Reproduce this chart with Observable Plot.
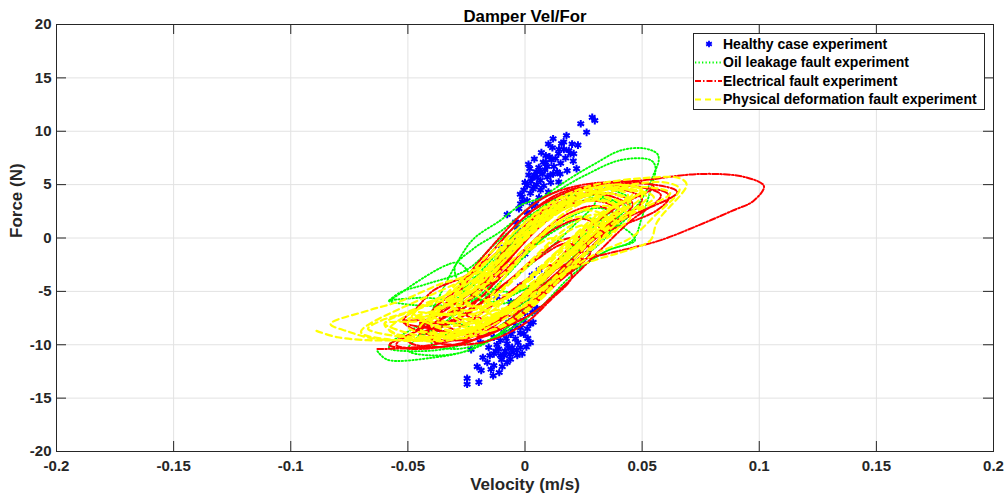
<!DOCTYPE html>
<html>
<head>
<meta charset="utf-8">
<script src="https://cdn.jsdelivr.net/npm/d3@7"></script>
<script src="https://cdn.jsdelivr.net/npm/@observablehq/plot@0.6"></script>
<style>
  body { margin: 0; background: #fff; }
  #wrap { position: relative; width: 1007px; height: 502px; font-family: "Liberation Sans", Arial, Helvetica, sans-serif; }
  #legend { position: absolute; left: 693px; top: 33px; }
</style>
</head>
<body>
<div id="wrap"></div>
<script>
const chartTitle = "Damper Vel/For";
const xLabel = "Velocity (m/s)";
const yLabel = "Force (N)";
const xTicks = [-0.2, -0.15, -0.1, -0.05, 0, 0.05, 0.1, 0.15, 0.2];
const yTicks = [-20, -15, -10, -5, 0, 5, 10, 15, 20];
const seriesNames = ["Healthy case experiment", "Oil leakage fault experiment", "Electrical fault experiment", "Physical deformation fault experiment"];

// [velocity (m/s), force (N)]
const healthy = [
  [0.0287,11.3],[0.0298,11.0],[0.0238,10.7],[0.0263,9.9],[0.0177,9.6],[0.0156,8.85],[0.0201,8.8],[0.0226,8.7],
  [0.0117,8.45],[0.0166,8.3],[0.0208,7.9],[0.0143,7.9],[0.0089,7.7],[0.0173,7.5],[0.0113,7.3],[0.0206,7.2],
  [0.0078,7.1],[0.022,6.5],[0.018,6.3],[0.0137,6.2],[0.0059,6.6],[0.0095,6.7],[0.0049,6.2],[0.0016,5.9],
  [0.0031,5.6],[0.0066,5.4],[0.0109,5.9],[0.0144,5.25],[0.0009,4.9],[0.0038,4.8],[-0.0005,4.5],[0.0023,4.2],
  [0.0066,4.5],[-0.0012,3.85],[0.0009,3.5],[-0.0019,3.2],[-0.0026,2.75],[-0.0076,2.2],[0.008,4.9],[0.0095,5.7],
  [0.0123,6.7],[0.0152,7.0],[0.013,7.45],[0.0187,8.2],[0.0194,7.9],[0.0052,5.7],[0.0066,6.2],[0.0088,7.1],
  [0.0,5.2],[0.002,6.5],[0.004,7.4],[0.007,8.0],[0.01,8.8],[0.012,9.3],[0.003,3.0],[0.006,3.8],[0.01,4.3],
  [-0.002,4.1],[0.005,5.0],[0.011,5.2],[0.015,6.0],[0.0075,6.0],[0.0025,5.3],[-0.001,3.4],[0.001,2.4],[0.0045,3.2],
  [0.0015,6.9],[0.004,5.9],[0.0085,6.4],[0.012,6.0],[0.0105,7.6],[0.0145,8.3],[0.0165,9.0],[0.0035,4.6],
  [-0.0033,1.0],[-0.0055,-1.15],[-0.0097,-2.3],[-0.019,-3.45],[0.0066,-4.0],[0.0052,-6.6],[-0.005,0.0],[0.0,-1.5],
  [-0.008,-2.0],[0.003,-3.5],[-0.002,-4.5],[0.004,-5.5],[-0.004,1.5],[0.002,0.8],[-0.01,-1.0],[0.006,-3.0],
  [-0.006,-6.0],[-0.012,-5.5],[0.0,-7.0],
  [-0.0247,-13.15],[-0.0247,-13.7],[-0.0197,-13.5],[-0.0136,-12.9],[-0.0204,-12.05],[-0.0187,-12.4],[-0.0161,-11.65],
  [-0.0133,-11.95],[-0.0097,-12.05],[-0.0062,-11.35],[-0.0076,-11.65],[-0.0033,-11.0],[-0.023,-10.45],[-0.019,-9.8],
  [-0.0155,-10.25],[-0.0133,-10.85],[-0.0112,-10.4],[-0.009,-11.0],[-0.0076,-9.9],[-0.0055,-10.25],[-0.0019,-10.25],
  [-0.0012,-10.85],[0.0006,-10.2],[-0.0041,-9.45],[-0.0005,-9.0],[0.0023,-9.8],[-0.0133,-9.3],[-0.0105,-9.6],
  [-0.009,-8.85],[-0.0055,-8.7],[-0.0019,-8.4],[0.0023,-8.05],[-0.0005,-7.75],[0.0031,-6.95],[0.0049,-6.65],
  [0.0023,-6.0],[0.0035,-7.9],[-0.0069,-7.9],[-0.0033,-7.4],
  [-0.008,-9.4],[-0.006,-9.0],[-0.003,-9.8],[-0.012,-10.0],[-0.01,-11.4],[-0.005,-10.7],[-0.015,-11.0],
  [-0.002,-8.9],[0.001,-8.5],[-0.004,-8.2],[-0.0085,-10.6],[-0.011,-12.6],[-0.018,-11.2],
  [-0.0145,-12.3],[-0.0065,-10.9],[-0.0035,-10.5],[-0.0105,-11.0],[-0.0125,-10.6],[-0.007,-10.3],[0.0012,-9.4]
];

const oilLeakage = [
  [-0.063,-10.6],[-0.0588,-11.4],[-0.039,-11.2],[-0.0247,-10.55],[-0.01,-8.8],[0.0066,-5.2],[0.02,-2.0],[0.035,1.0],
  [0.045,3.5],[0.035,4.6],[0.02,4.4],[0.005,2.5],[-0.01,-1.0],[-0.025,-4.5],[-0.04,-7.5],[-0.056,-9.6],
  [-0.058,-10.3],[-0.045,-10.6],[-0.03,-10.2],[-0.015,-8.8],[0.0,-6.5],[0.015,-3.5],[0.03,-0.5],[0.045,2.5],
  [0.035,3.6],[0.02,3.2],[0.005,1.2],[-0.01,-2.0],[-0.025,-5.0],[-0.04,-7.5],
  [-0.045,-8.6],[-0.03,-9.0],[-0.015,-8.0],[0.0,-6.0],[0.015,-3.0],[0.028,0.0],[0.04,3.0],[0.03,4.0],[0.015,3.2],
  [0.0,1.0],[-0.015,-2.5],[-0.03,-5.5],[-0.045,-5.6],
  [-0.0581,-5.9],[-0.0489,-6.25],[-0.0389,-6.35],[-0.025,-6.0],[-0.01,-4.5],[0.005,-2.0],[0.02,1.0],[0.03,3.5],
  [0.02,4.0],[0.005,2.5],[-0.01,0.0],[-0.025,-3.0],[-0.0418,-4.3],[-0.0531,-5.08],[-0.0581,-5.9],
  [-0.029,-2.3],[-0.022,-3.7],[-0.01,-5.0],[0.005,-4.5],[0.02,-2.5],[0.0336,-0.2],[0.0422,1.96],[0.0479,3.05],
  [0.0522,4.6],[0.055,6.0],[0.0571,7.3],[0.0564,7.9],[0.0507,8.4],[0.0408,8.2],[0.0294,6.9],[0.0194,5.6],
  [0.005,3.4],[-0.0105,0.6],[-0.022,-1.0],
  [-0.03,-2.8],[-0.025,-5.0],[-0.012,-6.2],[0.0152,-3.7],[0.035,-1.2],[0.046,-0.2],[0.05,2.0],[0.0536,4.5],
  [0.0557,6.65],[0.0536,7.3],[0.0408,7.3],[0.025,5.8],[0.01,4.0],[-0.0019,3.06],[-0.0105,1.65],[-0.0219,-0.07],
  [-0.029,-2.3],
  [-0.045,-9.0],[-0.05,-10.5],[-0.04,-11.0],[-0.025,-10.6],[-0.01,-9.0],[0.005,-6.8],[0.02,-3.5],[0.035,-1.2],
  [0.047,-0.2],[0.04,1.2],[0.025,1.8],[0.01,0.3],[-0.005,-2.5],[-0.02,-5.5],[-0.035,-8.0],[-0.045,-9.2],
  [-0.03,-8.0],[-0.02,-8.5],[-0.008,-7.0],[0.005,-4.5],[0.018,-1.8],[0.03,1.2],[0.038,3.0],[0.03,4.0],
  [0.018,3.5],[0.005,1.5],[-0.008,-1.5],[-0.02,-4.8],[-0.03,-7.0],
  [-0.04,-9.8],[-0.03,-10.4],[-0.016,-9.6],[-0.002,-7.4],[0.012,-4.4],[0.026,-1.4],[0.04,1.8],[0.032,2.8],
  [0.018,1.8],[0.004,-0.8],[-0.01,-4.0],[-0.026,-7.2],
  [-0.025,-5.0],[-0.016,-6.0],[-0.002,-5.0],[0.012,-2.6],[0.026,0.4],[0.04,3.0],[0.03,4.0],[0.016,3.2],
  [0.002,1.0],[-0.012,-2.0]
];

const electrical = [
  [-0.063,-10.4],[-0.05,-10.3],[-0.035,-9.8],[-0.02,-8.8],[-0.005,-6.5],[0.01,-3.5],[0.025,-0.5],[0.04,2.5],
  [0.03,3.5],[0.015,2.8],[0.0,0.5],[-0.015,-3.5],[-0.03,-6.8],[-0.045,-8.6],[-0.055,-9.6],
  [-0.058,-10.0],[-0.048,-10.4],[-0.03,-10.0],[-0.015,-9.0],[0.0,-7.0],[0.012,-4.5],[0.025,-1.5],[0.018,-0.5],
  [0.005,-2.0],[-0.01,-4.5],[-0.025,-7.0],[-0.04,-8.5],
  [-0.045,-9.0],[-0.03,-9.6],[-0.015,-8.5],[0.0,-5.5],[0.015,-2.7],[0.029,-1.8],[0.047,-0.85],[0.058,-0.2],
  [0.072,1.0],[0.089,2.6],[0.0974,3.45],[0.102,4.85],[0.094,5.7],[0.075,6.0],[0.05,5.4],[0.025,5.0],[0.01,4.0],
  [0.0,2.5],[-0.015,-1.0],[-0.03,-5.0],[-0.04,-7.5],
  [-0.052,-7.8],[-0.045,-8.8],[-0.03,-9.2],[-0.015,-8.0],[0.0,-5.8],[0.015,-3.0],[0.03,0.0],[0.045,2.8],
  [0.035,4.0],[0.02,3.8],[0.005,2.0],[-0.01,-1.0],[-0.025,-3.5],[-0.039,-4.9],[-0.046,-6.5],[-0.052,-7.8],
  [-0.04,-8.5],[-0.025,-9.0],[-0.01,-7.5],[0.005,-4.5],[0.02,-1.5],[0.0293,0.1],[0.0436,1.35],[0.0564,2.6],
  [0.0614,3.7],[0.0607,4.2],[0.049,4.8],[0.03,4.9],[0.015,4.2],[0.0,2.0],[-0.015,-1.5],[-0.028,-5.0],[-0.036,-7.0],
  [-0.035,-9.0],[-0.025,-9.6],[-0.01,-8.5],[0.005,-5.8],[0.02,-2.5],[0.033,0.5],[0.025,1.8],[0.01,0.5],
  [-0.005,-2.5],[-0.02,-5.8],[-0.03,-7.8],
  [-0.045,-8.0],[-0.035,-8.8],[-0.02,-8.4],[-0.005,-6.0],[0.01,-3.0],[0.025,0.5],[0.04,3.0],[0.055,4.8],
  [0.045,5.3],[0.03,5.0],[0.015,4.0],[0.0,2.0],[-0.015,-1.5],[-0.03,-5.0],[-0.04,-7.0],
  [-0.04,-9.5],[-0.03,-10.0],[-0.015,-9.6],[0.0,-8.0],[0.01,-6.0],[0.02,-3.5],[0.012,-2.5],[0.0,-4.0],
  [-0.015,-6.5],[-0.028,-8.3],
  [-0.025,-7.0],[-0.015,-7.8],[0.0,-6.5],[0.012,-4.0],[0.025,-1.0],[0.04,1.5],[0.065,4.3],[0.055,5.0],
  [0.035,5.0],[0.02,4.2],[0.005,2.2],[-0.01,-1.5],[-0.02,-4.5],
  [-0.05,-9.6],[-0.04,-10.2],[-0.025,-9.8],[-0.01,-8.2],[0.004,-5.6],[0.018,-2.6],[0.032,0.4],[0.046,3.2],
  [0.036,4.2],[0.022,3.6],[0.008,1.4],[-0.006,-1.8],[-0.02,-5.2],[-0.036,-7.8],
  [-0.03,-8.6],[-0.02,-9.2],[-0.006,-8.0],[0.008,-5.4],[0.022,-2.2],[0.036,0.8],[0.05,3.6],[0.04,4.6],
  [0.026,4.2],[0.012,2.4],[-0.002,-0.6],[-0.016,-4.0],
  [-0.042,-8.0],[-0.032,-8.8],[-0.018,-8.4],[-0.004,-6.4],[0.01,-3.6],[0.024,-0.6],[0.038,2.2],[0.03,3.0],
  [0.016,2.0],[0.002,-0.6],[-0.012,-3.8],[-0.028,-6.6],
  [-0.022,-7.6],[-0.012,-8.4],[0.002,-7.2],[0.016,-4.6],[0.03,-1.6],[0.044,1.4],[0.058,4.0],[0.048,4.8],
  [0.034,4.6],[0.02,3.4],[0.006,1.0],[-0.008,-2.4],[-0.018,-5.4],
  [-0.055,-10.0],[-0.044,-10.3],[-0.028,-9.9],[-0.014,-8.8],[0.0,-6.8],[0.014,-4.2],[0.028,-1.2],[0.02,0.0],
  [0.006,-1.6],[-0.008,-4.2],[-0.024,-7.0],[-0.04,-8.8]
];

const physicalDeformation = [
  [-0.089,-8.7],[-0.08,-9.3],[-0.06,-9.6],[-0.04,-9.2],[-0.02,-7.8],[0.0,-5.5],[0.015,-2.5],[0.03,0.5],
  [0.045,3.5],[0.035,4.2],[0.02,3.8],[0.005,2.0],[-0.01,-1.0],[-0.025,-3.5],[-0.036,-4.3],[-0.053,-5.9],
  [-0.067,-6.8],[-0.083,-8.05],
  [-0.075,-8.8],[-0.065,-9.4],[-0.045,-9.5],[-0.025,-8.5],[-0.008,-6.5],[0.008,-3.8],[0.025,-0.8],[0.045,2.2],
  [0.062,4.2],[0.05,4.8],[0.03,4.3],[0.012,2.8],[-0.005,0.0],[-0.02,-3.0],[-0.035,-5.5],[-0.05,-6.9],[-0.062,-7.8],
  [-0.067,-8.5],[-0.055,-9.2],[-0.04,-9.4],[-0.025,-8.7],[-0.01,-7.0],[0.005,-4.0],[0.02,-1.0],[0.012,0.0],
  [0.0,-1.5],[-0.012,-3.8],[-0.028,-5.3],[-0.045,-6.6],[-0.06,-8.05],
  [-0.055,-9.0],[-0.045,-9.6],[-0.03,-9.5],[-0.015,-8.3],[0.0,-6.3],[0.015,-3.5],[0.03,-0.5],[0.045,2.0],
  [0.035,3.0],[0.02,2.2],[0.005,0.0],[-0.01,-3.0],[-0.025,-5.8],[-0.04,-7.6],
  [-0.06,-8.0],[-0.05,-8.9],[-0.035,-9.3],[-0.02,-8.6],[-0.005,-6.3],[0.01,-3.5],[0.025,-0.8],[0.04,1.8],
  [0.055,3.8],[0.045,4.6],[0.03,4.4],[0.015,3.0],[0.0,0.5],[-0.015,-2.8],[-0.03,-5.0],[-0.045,-6.5],
  [-0.05,-8.3],[-0.04,-9.0],[-0.025,-8.8],[-0.01,-7.0],[0.005,-4.2],[0.02,-1.3],[0.035,1.5],[0.05,4.0],
  [0.04,4.6],[0.025,4.0],[0.01,2.2],[-0.005,-0.8],[-0.02,-3.8],[-0.035,-6.5],
  [-0.04,-8.0],[-0.03,-8.7],[-0.015,-8.0],[0.0,-5.5],[0.015,-2.5],[0.03,0.5],[0.042,3.0],[0.035,3.8],
  [0.02,3.2],[0.005,1.0],[-0.01,-2.0],[-0.025,-5.0],
  [-0.045,-8.5],[-0.03,-8.8],[-0.012,-7.5],[0.005,-5.0],[0.022,-2.7],[0.0458,-1.0],[0.0536,-0.2],[0.0564,1.5],
  [0.069,5.0],[0.066,5.6],[0.05,5.6],[0.03,5.0],[0.015,3.8],[0.0,1.5],[-0.015,-2.0],[-0.03,-5.5],
  [-0.025,-6.0],[-0.015,-6.8],[0.0,-5.8],[0.015,-3.5],[0.03,-1.5],[0.045,0.0],[0.055,2.0],[0.066,4.6],
  [0.06,5.2],[0.045,5.0],[0.03,4.3],[0.015,3.0],[0.0,0.8],[-0.015,-2.5],
  [-0.03,-7.0],[-0.02,-7.8],[-0.008,-6.8],[0.005,-4.5],[0.018,-1.8],[0.03,1.0],[0.04,2.8],[0.03,3.5],
  [0.015,2.5],[0.0,0.0],[-0.012,-3.0],[-0.022,-5.5],
  [-0.035,-6.0],[-0.025,-6.8],[-0.01,-5.8],[0.005,-3.0],[0.02,0.0],[0.035,2.5],[0.05,4.5],[0.04,5.0],
  [0.025,4.5],[0.01,3.0],[-0.005,0.5],[-0.02,-2.5],[-0.035,-6.0],
  [-0.02,-6.5],[-0.012,-7.3],[0.0,-6.2],[0.012,-3.8],[0.025,-1.0],[0.035,1.8],[0.027,2.6],[0.015,1.6],
  [0.003,-0.8],[-0.008,-3.5],[-0.02,-6.5],
  [-0.045,-7.5],[-0.035,-8.3],[-0.02,-7.6],[-0.005,-5.2],[0.01,-2.2],[0.025,0.8],[0.038,3.2],[0.03,4.0],
  [0.016,3.0],[0.002,0.5],[-0.012,-2.8],[-0.027,-5.6],[-0.04,-7.0],
  [-0.038,-9.0],[-0.028,-9.4],[-0.014,-8.6],[0.0,-6.8],[0.013,-4.2],[0.026,-1.5],[0.04,1.2],[0.03,2.2],
  [0.017,0.8],[0.003,-2.0],[-0.012,-5.2],[-0.026,-7.6],
  [-0.032,-5.5],[-0.022,-6.4],[-0.008,-5.6],[0.006,-3.2],[0.02,-0.4],[0.033,2.2],[0.046,4.2],[0.036,4.8],
  [0.022,4.0],[0.008,2.0],[-0.006,-0.8],[-0.02,-3.6],
  [-0.058,-8.6],[-0.046,-9.3],[-0.03,-9.1],[-0.016,-7.8],[-0.002,-5.6],[0.012,-2.8],[0.026,0.2],[0.04,2.8],
  [0.032,3.6],[0.018,2.8],[0.004,0.6],[-0.01,-2.4],[-0.024,-5.2],[-0.04,-7.2],
  [-0.028,-8.2],[-0.018,-8.8],[-0.005,-7.8],[0.008,-5.5],[0.02,-2.6],[0.032,0.2],[0.026,1.2],[0.014,0.0],
  [0.002,-2.5],[-0.01,-5.0],[-0.02,-7.0],
  [-0.048,-7.0],[-0.04,-7.8],[-0.026,-7.8],[-0.012,-6.2],[0.002,-3.8],[0.016,-0.8],[0.03,2.0],[0.044,4.0],
  [0.036,4.6],[0.022,3.8],[0.008,1.8],[-0.006,-1.2],[-0.02,-4.0],[-0.034,-5.8],
  [-0.02,-4.5],[-0.012,-5.4],[0.0,-4.6],[0.012,-2.4],[0.024,0.2],[0.036,2.6],[0.05,4.4],[0.042,5.0],
  [0.028,4.6],[0.014,3.2],[0.0,0.8],[-0.012,-2.2],
  [-0.07,-8.8],[-0.058,-9.5],[-0.042,-9.6],[-0.026,-9.0],[-0.012,-7.4],[0.002,-4.8],[0.016,-1.8],[0.03,1.2],
  [0.024,2.0],[0.01,0.8],[-0.004,-1.8],[-0.018,-4.4],[-0.034,-6.4],[-0.05,-7.6],
  [-0.034,-7.2],[-0.024,-8.0],[-0.01,-7.0],[0.004,-4.6],[0.018,-1.6],[0.03,1.2],[0.044,3.4],[0.034,4.2],
  [0.02,3.4],[0.006,1.2],[-0.008,-2.0],[-0.022,-5.0],
  [-0.015,-6.0],[-0.006,-6.8],[0.006,-5.6],[0.018,-3.2],[0.03,-0.6],[0.042,2.0],[0.052,3.8],[0.044,4.6],
  [0.03,3.8],[0.016,2.2],[0.004,-0.4],[-0.008,-3.4]
];

const colors = { healthy: "#0000ff", oil: "#00ff00", elec: "#ff0000", phys: "#ffff00" };
const FONT = '"Liberation Sans", Arial, Helvetica, sans-serif';
const AXIS = "#262626";

const plot = Plot.plot({
  width: 1007,
  height: 502,
  marginLeft: 56,
  marginRight: 14,
  marginTop: 24,
  marginBottom: 51,
  style: { fontFamily: FONT, background: "#fff", overflow: "visible" },
  x: { domain: [-0.2, 0.2], axis: null },
  y: { domain: [-20, 20], axis: null },
  marks: [
    Plot.ruleX(xTicks, { stroke: "#e2e2e2", strokeWidth: 1 }),
    Plot.ruleY(yTicks, { stroke: "#e2e2e2", strokeWidth: 1 }),
    Plot.dot(healthy, { x: d => d[0], y: d => d[1], symbol: "asterisk", r: 3.6, stroke: colors.healthy, strokeWidth: 2 }),
    Plot.line(oilLeakage, { x: d => d[0], y: d => d[1], stroke: colors.oil, strokeWidth: 1.9, strokeDasharray: "1.3,2.2", curve: "catmull-rom" }),
    Plot.line(electrical, { x: d => d[0], y: d => d[1], stroke: colors.elec, strokeWidth: 2, strokeDasharray: "6,2,1.5,2", curve: "catmull-rom" }),
    Plot.line(physicalDeformation, { x: d => d[0], y: d => d[1], stroke: colors.phys, strokeWidth: 2.2, strokeDasharray: "6,4", curve: "catmull-rom" }),
    Plot.ruleX(xTicks, { stroke: AXIS, insetTop: 417 }),
    Plot.ruleX(xTicks, { stroke: AXIS, insetBottom: 417 }),
    Plot.ruleY(yTicks, { stroke: AXIS, insetRight: 927 }),
    Plot.ruleY(yTicks, { stroke: AXIS, insetLeft: 927 }),
    Plot.frame({ stroke: AXIS, strokeWidth: 1 }),
    Plot.axisX(xTicks, { tickSize: 0, tickPadding: 9, fontSize: 15, fontWeight: "bold", fill: AXIS, tickFormat: d => String(d), label: null }),
    Plot.axisY(yTicks, { tickSize: 0, tickPadding: 5, fontSize: 15, fontWeight: "bold", fill: AXIS, tickFormat: d => String(d), label: null }),
    Plot.text([chartTitle], { text: d => d, frameAnchor: "top", dy: -14, fontSize: 16.8, fontWeight: "bold", fill: "#000" }),
    Plot.text([xLabel], { text: d => d, frameAnchor: "bottom", dy: 38, fontSize: 17, fontWeight: "bold", fill: AXIS }),
    Plot.text([yLabel], { text: d => d, frameAnchor: "left", dx: -40, rotate: -90, fontSize: 17, fontWeight: "bold", fill: AXIS })
  ]
});

const wrap = document.getElementById("wrap");
wrap.appendChild(plot);

// Legend
const lw = 292, lh = 77;
const legend = d3.select(wrap).append("svg")
  .attr("id", "legend").attr("width", lw).attr("height", lh)
  .style("font-family", FONT);
legend.append("rect").attr("x", 0.5).attr("y", 0.5).attr("width", lw - 1).attr("height", lh - 1)
  .attr("fill", "#fff").attr("stroke", AXIS).attr("stroke-width", 1);
const rowsY = [11, 29.5, 48, 66.5];
const styles = [
  { type: "marker", color: colors.healthy },
  { type: "line", color: colors.oil, dash: "1.3,2.2", w: 1.9 },
  { type: "line", color: colors.elec, dash: "6,2,1.5,2", w: 2 },
  { type: "line", color: colors.phys, dash: "6,4", w: 2.2 }
];
seriesNames.forEach((name, i) => {
  const y = rowsY[i];
  const s = styles[i];
  if (s.type === "marker") {
    legend.append("path").attr("d", d3.symbol(d3.symbolAsterisk, 30)()).attr("transform", `translate(16,${y})`)
      .attr("fill", "none").attr("stroke", s.color).attr("stroke-width", 1.8);
  } else {
    legend.append("line").attr("x1", 2).attr("x2", 29).attr("y1", y).attr("y2", y)
      .attr("stroke", s.color).attr("stroke-width", s.w).attr("stroke-dasharray", s.dash);
  }
  legend.append("text").attr("x", 30).attr("y", y).attr("dy", "0.35em")
    .attr("font-size", 14).attr("font-weight", "bold").attr("fill", "#000").text(name);
});
</script>
</body>
</html>
